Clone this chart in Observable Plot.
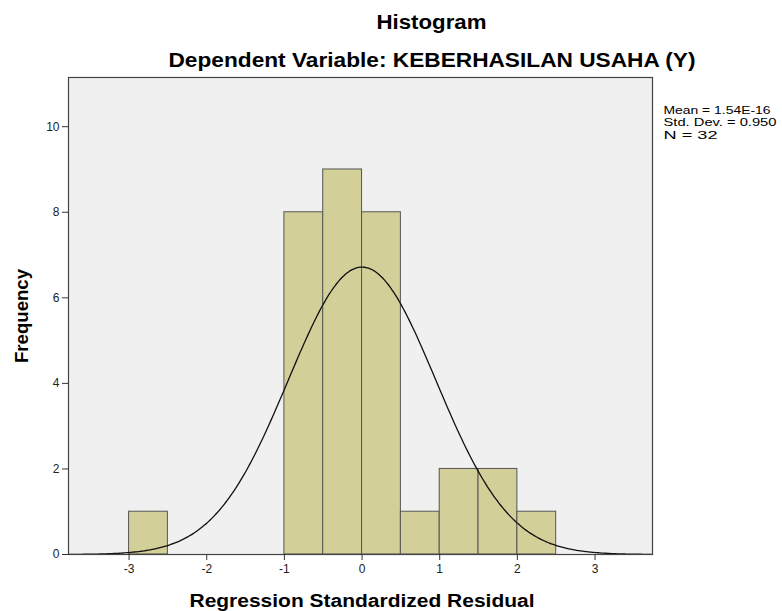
<!DOCTYPE html>
<html>
<head>
<meta charset="utf-8">
<script src="https://cdn.jsdelivr.net/npm/d3@7"></script>
<script src="https://cdn.jsdelivr.net/npm/@observablehq/plot@0.6"></script>
<style>
  html, body { margin: 0; padding: 0; background: #fff; }
  svg { font-family: "Liberation Sans", Arial, sans-serif; }
</style>
</head>
<body>
<div id="chart"></div>
<script>
// Histogram bins (left edges) and frequencies
const binStarts = [-3, -2.5, -2, -1.5, -1, -0.5, 0, 0.5, 1, 1.5, 2];
const counts    = [ 1,  0,    0,  0,    8,  9,   8, 1,   2, 2,   1];
const binWidth = 0.5;
const xTicks = [-3, -2, -1, 0, 1, 2, 3];
const yTicks = [0, 2, 4, 6, 8, 10];
// Summary statistics shown in the legend
const statMean = 1.54e-16;
const statSd = 0.950;
const statN = 32;
const statLines = ["Mean = 1.54E-16", "Std. Dev. = 0.950", "N = 32"];
const titleText = "Histogram";
const subtitleText = "Dependent Variable: KEBERHASILAN USAHA (Y)";
const xLabel = "Regression Standardized Residual";
const yLabel = "Frequency";

const bars = binStarts.map((s, i) => ({x1: s, x2: s + binWidth, count: counts[i]})).filter(d => d.count > 0);

const xDomain = [-3.78, 3.74];
// Normal curve implied by the summary statistics (scaled to frequency)
const curve = d3.range(xDomain[0], xDomain[1] + 1e-9, (xDomain[1] - xDomain[0]) / 300).map(x => ({
  x, y: statN * binWidth / (statSd * Math.sqrt(2 * Math.PI)) * Math.exp(-0.5 * ((x - statMean) / statSd) ** 2)
}));

const chart = Plot.plot({
  width: 782,
  height: 611,
  marginLeft: 68,
  marginRight: 130,
  marginTop: 77,
  marginBottom: 57,
  style: {fontFamily: "'Liberation Sans', Arial, sans-serif", background: "#fff"},
  x: {domain: xDomain},
  y: {domain: [0, 11.15]},
  marks: [
    Plot.frame({fill: "#f0f0f0", stroke: null}),
    Plot.rectY(bars, {x1: "x1", x2: "x2", y: "count", fill: "#d3cf98", stroke: "#555", strokeWidth: 1, inset: 0}),
    Plot.line(curve, {x: "x", y: "y", stroke: "#111", strokeWidth: 1.3, curve: "basis"}),
    Plot.frame({stroke: "#444", strokeWidth: 1.2}),
    Plot.axisX({ticks: xTicks, tickSize: 6, tickPadding: 4, fontSize: 12, fill: "#222", stroke: "#333", label: null, tickFormat: d => String(d)}),
    Plot.axisY({ticks: yTicks, tickSize: 6, tickPadding: 3, fontSize: 12, fill: "#222", stroke: "#333", label: null}),
    Plot.text([titleText], {frameAnchor: "top", textAnchor: "middle", lineAnchor: "middle", dx: 71, dy: -55, fontSize: 19.5, fontWeight: "bold", fill: "#000"}),
    Plot.text([subtitleText], {frameAnchor: "top", textAnchor: "middle", lineAnchor: "middle", dx: 71.5, dy: -17, fontSize: 19.5, fontWeight: "bold", fill: "#000"}),
    Plot.text([statLines[0]], {frameAnchor: "top-right", textAnchor: "start", lineAnchor: "middle", dx: 11, dy: 32.7, fontSize: 11, fill: "#000"}),
    Plot.text([statLines[1]], {frameAnchor: "top-right", textAnchor: "start", lineAnchor: "middle", dx: 11, dy: 45, fontSize: 11, fill: "#000"}),
    Plot.text([statLines[2]], {frameAnchor: "top-right", textAnchor: "start", lineAnchor: "middle", dx: 11, dy: 57.5, fontSize: 11, fill: "#000"}),
    Plot.text([xLabel], {frameAnchor: "bottom", textAnchor: "middle", lineAnchor: "middle", dx: 1.5, dy: 47, fontSize: 17.5, fontWeight: "bold", fill: "#000"}),
    Plot.text([yLabel], {frameAnchor: "left", textAnchor: "middle", lineAnchor: "middle", dx: -46.5, rotate: -90, fontSize: 18, fontWeight: "bold", fill: "#000"})
  ]
});

// Stretch text horizontally to match the reference's wide glyphs
const textLengths = new Map([
  [titleText, 110], [subtitleText, 527], [xLabel, 345], [yLabel, 94],
  [statLines[0], 107], [statLines[1], 113], [statLines[2], 54]
]);
d3.select(chart).selectAll("text").each(function() {
  const t = this.textContent;
  if (textLengths.has(t) && this.children.length === 0) {
    this.setAttribute("textLength", textLengths.get(t));
    this.setAttribute("lengthAdjust", "spacingAndGlyphs");
  }
});
document.getElementById("chart").appendChild(chart);
</script>
</body>
</html>
